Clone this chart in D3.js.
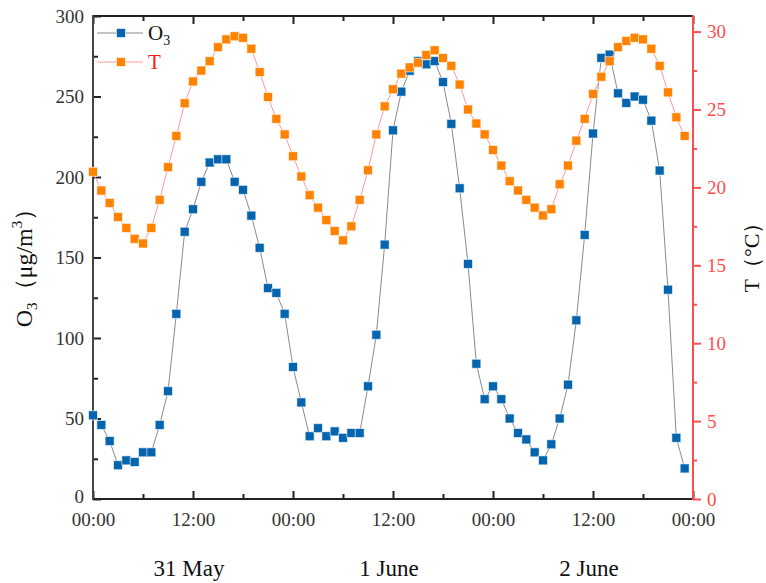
<!DOCTYPE html>
<html lang="en">
<head>
<meta charset="UTF-8">
<title>O3 and T</title>
<script src="https://cdn.jsdelivr.net/npm/d3@7"></script>
<style>
  body { margin: 0; background: #fff; }
  svg, svg text { font-family: "Liberation Serif", "Times New Roman", serif; }
</style>
</head>
<body>
<svg width="766" height="583"></svg>
<script>
// hours since 00:00 31 May
var hours = d3.range(72);
var o3 = [52,46,36,21,24,23,29,29,46,67,115,166,180,197,209,211,211,197,192,176,156,131,128,115,
          82,60,39,44,39,42,38,41,41,70,102,158,229,253,266,272,270,272,259,233,193,146,84,62,
          70,62,50,41,37,29,24,34,50,71,111,164,227,274,276,252,246,250,248,235,204,130,38,19];
var temp = [21.0,19.8,19.0,18.1,17.4,16.7,16.4,17.4,19.2,21.3,23.3,25.4,26.8,27.5,28.1,29.0,29.5,29.7,29.6,28.9,27.4,25.8,24.4,23.4,
            22.0,20.7,19.5,18.7,17.9,17.2,16.6,17.5,19.2,21.1,23.4,25.2,26.3,27.3,27.7,28.0,28.5,28.8,28.3,27.8,26.6,25.0,24.1,23.4,
            22.4,21.4,20.4,19.8,19.2,18.7,18.2,18.6,20.2,21.4,23.0,24.4,26.0,27.1,28.1,29.0,29.4,29.6,29.5,28.9,27.8,26.1,24.5,23.3];
var xTicks = [0,12,24,36,48,60,72];
var xLabels = ["00:00","12:00","00:00","12:00","00:00","12:00","00:00"];
var days = ["31 May","1 June","2 June"];
var dayNoon = [12,36,60];

var svg = d3.select("svg");
var pL = 93, pR = 693, pT = 16, pB = 499;

var x = d3.scaleLinear().domain([0,72]).range([pL,pR]);
var yO = d3.scaleLinear().domain([0,300]).range([pB,pT]);
var yT = d3.scaleLinear().domain([0,31]).range([pB,pT]);

var axisColor = "#222", red = "#ff4d4d";

// top axis (ticks only)
var gTop = svg.append("g").attr("transform","translate(0,"+pT+")");
gTop.call(d3.axisTop(x).tickValues(d3.range(0,73,6)).tickSize(0).tickFormat(""));
gTop.selectAll(".tick").append("line")
  .attr("y2",function(d){ return d%12===0 ? 8 : 5; });

// bottom axis
var gBot = svg.append("g").attr("transform","translate(0,"+pB+")");
gBot.call(d3.axisBottom(x).tickValues(d3.range(0,73,6)).tickSize(0).tickPadding(14)
  .tickFormat(function(d){ return d%12===0 ? xLabels[xTicks.indexOf(d)] : ""; }));
gBot.selectAll(".tick").append("line")
  .attr("y2",function(d){ return d%12===0 ? -8 : -5; });

// left axis
var gLeft = svg.append("g").attr("transform","translate("+pL+",0)");
gLeft.call(d3.axisLeft(yO).tickValues(d3.range(0,301,25)).tickSize(0).tickPadding(9)
  .tickFormat(function(d){ return d%50===0 ? d : ""; }));
gLeft.selectAll(".tick").append("line")
  .attr("x2",function(d){ return d%50===0 ? 8 : 5; });

// right axis (red, ticks outward)
var gRight = svg.append("g").attr("transform","translate("+pR+",0)");
gRight.call(d3.axisRight(yT).tickValues(d3.range(0,31,2.5)).tickSize(0).tickPadding(14)
  .tickFormat(function(d){ return d%5===0 ? d : ""; }));
gRight.selectAll(".tick").append("line")
  .attr("x2",function(d){ return d%5===0 ? 8 : 4; });

[gTop,gBot,gLeft,gRight].forEach(function(g){
  g.attr("font-family",null).attr("font-size",null);
  g.select(".domain").remove();
  g.selectAll(".tick line").attr("stroke",g===gRight ? red : axisColor).attr("stroke-width",2);
  g.selectAll(".tick text").attr("fill",g===gRight ? red : "#333").style("font-size","19px");
});
gLeft.selectAll(".tick text").filter(function(d){ return d===0; }).attr("dy","0.2em");

svg.append("line").attr("x1",pL).attr("x2",pR).attr("y1",pT).attr("y2",pT)
  .attr("stroke",axisColor).attr("stroke-width",2);
svg.append("line").attr("x1",pL).attr("x2",pR).attr("y1",pB).attr("y2",pB)
  .attr("stroke",axisColor).attr("stroke-width",2);
svg.append("line").attr("x1",pL).attr("x2",pL).attr("y1",pT-1).attr("y2",pB+1)
  .attr("stroke","#444").attr("stroke-width",2);
svg.append("line").attr("x1",pR).attr("x2",pR).attr("y1",pT-1).attr("y2",pB+1)
  .attr("stroke",red).attr("stroke-width",2);

// date labels
svg.selectAll(".day").data(days).enter().append("text")
  .attr("x",function(d,i){ return x(dayNoon[i]) - 4; })
  .attr("y",576).attr("text-anchor","middle")
  .style("font-size","23px").attr("fill","#111")
  .text(function(d){ return d; });

// axis titles
var tl = svg.append("text").attr("transform","translate(32,262) rotate(-90)")
  .attr("text-anchor","middle").style("font-size","24px").attr("fill","#111");
tl.append("tspan").text("O");
tl.append("tspan").attr("dy",5).style("font-size","15px").text("3");
tl.append("tspan").attr("dy",-5).text("（μg/m");
tl.append("tspan").attr("dy",-10).style("font-size","15px").text("3");
tl.append("tspan").attr("dy",10).text("）");

svg.append("text").attr("transform","translate(759,252) rotate(-90)")
  .attr("text-anchor","middle").style("font-size","22px").attr("fill","#111")
  .text("T（°C）");

// series
function drawSeries(vals, yScale, lineColor, fill) {
  var line = d3.line().x(function(d,i){ return x(hours[i]); }).y(function(d){ return yScale(d); });
  svg.append("path").datum(vals).attr("d",line)
    .attr("fill","none").attr("stroke",lineColor).attr("stroke-width",1);
  svg.append("g").selectAll("rect").data(vals).enter().append("rect")
    .attr("x",function(d,i){ return x(hours[i]) - 4.5; })
    .attr("y",function(d){ return yScale(d) - 4.5; })
    .attr("width",9).attr("height",9)
    .attr("fill",fill).attr("stroke","#fff").attr("stroke-opacity",0.6).attr("stroke-width",1);
}
drawSeries(o3, yO, "#8a8a8a", "#0564ae");
drawSeries(temp, yT, "#ff9a9a", "#ff8200");

// legend
var legend = [
  {name:"O", sub:"3", line:"#8a8a8a", fill:"#0564ae", color:"#111"},
  {name:"T", sub:"", line:"#ff9a9a", fill:"#ff8200", color:"#ff1a1a"}
];
var lg = svg.selectAll(".lg").data(legend).enter().append("g")
  .attr("transform",function(d,i){ return "translate(97,"+(33+i*29)+")"; });
lg.append("line").attr("x1",0).attr("x2",46).attr("stroke",function(d){ return d.line; }).attr("stroke-width",1);
lg.append("rect").attr("x",19.5).attr("y",-4.5).attr("width",9).attr("height",9)
  .attr("fill",function(d){ return d.fill; }).attr("stroke","#fff").attr("stroke-opacity",0.6);
var lt = lg.append("text").attr("x",51).attr("y",7).style("font-size","21px")
  .attr("fill",function(d){ return d.color; });
lt.append("tspan").text(function(d){ return d.name; });
lt.append("tspan").attr("dy",5).style("font-size","14px").text(function(d){ return d.sub; });
</script>
</body>
</html>
